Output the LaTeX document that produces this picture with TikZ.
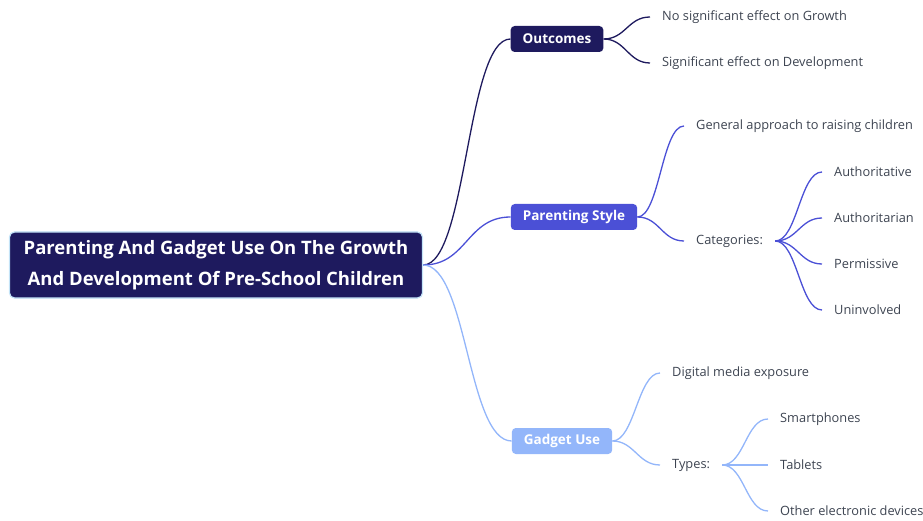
\documentclass[tikz,border=0pt]{standalone}
\usepackage{fontspec}
\setmainfont{Open Sans}
\usepackage{tikz}
\usetikzlibrary{positioning}
\definecolor{Navy}{HTML}{1E1A5E}
\definecolor{Indigo}{HTML}{4B50D6}
\definecolor{Sky}{HTML}{93B6FA}
\definecolor{Rim}{HTML}{C4E4F8}
\definecolor{Ink}{HTML}{3D4451}

\tikzset{
  root/.style={draw=Rim, line width=1.2pt, fill=Navy, rounded corners=5pt,
    text=white, font=\fontsize{18.5}{31}\selectfont\bfseries, align=center,
    minimum width=413, minimum height=66, inner sep=0pt},
  topic/.style={fill=#1, rounded corners=4pt, text=white,
    font=\fontsize{13.5}{16}\selectfont\bfseries,
    minimum height=26, inner xsep=12pt, inner ysep=0pt},
  leaf/.style={text=Ink, font=\fontsize{12.8}{15}\selectfont,
    inner xsep=12pt, inner ysep=2pt, anchor=west},
  link/.style={draw=#1, line width=1.3pt, out=0, in=180, distance=22},
}

\begin{document}
\begin{tikzpicture}[x=1pt,y=-1pt]
  \useasboundingbox (0,0) rectangle (923,521);

  \node[root] (root) at (216,265) {Parenting And Gadget Use On The Growth\\And Development Of Pre-School Children};

  % main branches
  \node[topic=Navy] (outcomes) at (557,39) {Outcomes};
  \node[topic=Indigo] (style) at (574,217) {Parenting Style};
  \node[topic=Sky] (gadget) at (562,441) {Gadget Use};

  \draw[link=Navy,distance=44] (root.east) to (outcomes.west);
  \draw[link=Indigo,distance=44] (root.east) to (style.west);
  \draw[link=Sky,distance=44] (root.east) to (gadget.west);

  % outcomes
  \node[leaf] (growth) at (650,17) {No significant effect on Growth};
  \node[leaf] (develop) at (650,63) {Significant effect on Development};
  \draw[link=Navy] (outcomes.east) to (growth.west);
  \draw[link=Navy] (outcomes.east) to (develop.west);

  % parenting style
  \node[leaf] (approach) at (684,126) {General approach to raising children};
  \node[leaf] (categories) at (684,241) {Categories:};
  \draw[link=Indigo] (style.east) to (approach.west);
  \draw[link=Indigo] (style.east) to (categories.west);

  \node[leaf] (authoritative) at (822,172) {Authoritative};
  \node[leaf] (authoritarian) at (822,218) {Authoritarian};
  \node[leaf] (permissive) at (822,264) {Permissive};
  \node[leaf] (uninvolved) at (822,310) {Uninvolved};
  \foreach \n in {authoritative,authoritarian,permissive,uninvolved}
    \draw[link=Indigo] (categories.east) to (\n.west);

  % gadget use
  \node[leaf] (media) at (660,373) {Digital media exposure};
  \node[leaf] (types) at (660,465) {Types:};
  \draw[link=Sky] (gadget.east) to (media.west);
  \draw[link=Sky] (gadget.east) to (types.west);

  \node[leaf] (phones) at (768,419) {Smartphones};
  \node[leaf] (tablets) at (768,465) {Tablets};
  \node[leaf] (devices) at (768,511) {Other electronic devices};
  \foreach \n in {phones,tablets,devices}
    \draw[link=Sky] (types.east) to (\n.west);
\end{tikzpicture}
\end{document}
